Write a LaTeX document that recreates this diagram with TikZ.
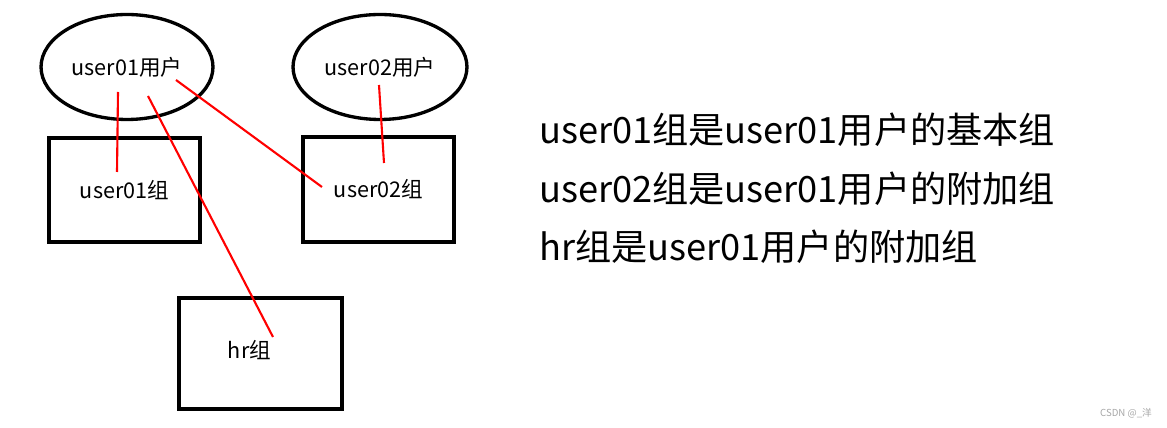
\documentclass[tikz,border=0pt]{standalone}
\usepackage{fontspec}
\setmainfont{Noto Sans CJK SC}
\usetikzlibrary{shapes.geometric}

\begin{document}
\begin{tikzpicture}[x=0.02cm, y=-0.02cm,
    userellipse/.style={draw, ellipse, line width=1.9pt, inner sep=0pt, font=\fontsize{12.3}{14}\selectfont},
    groupbox/.style={draw, rectangle, line width=1.9pt, inner sep=0pt, font=\fontsize{12.3}{14}\selectfont},
    link/.style={red, line width=1.2pt},
    note/.style={anchor=west, font=\fontsize{20.6}{24}\selectfont}]
    \useasboundingbox (0,0) rectangle (1167,428);

    \node[userellipse, minimum width=3.44cm, minimum height=2.1cm] (user01) at (127,67) {user01用户};
    \node[userellipse, minimum width=3.48cm, minimum height=2.1cm] (user02) at (380,67) {user02用户};

    \node[groupbox, minimum width=3.02cm, minimum height=2.08cm] (grp01) at (124.5,190) {user01组};
    \node[groupbox, minimum width=3.02cm, minimum height=2.1cm] (grp02) at (378.5,189.5) {user02组};
    \node[groupbox, minimum width=3.26cm, minimum height=2.22cm,
          label={[font=\fontsize{12.3}{14}\selectfont, xshift=-0.22cm, yshift=0.06cm]center:hr组}] (hr) at (260.5,353.5) {};

    % ends of the red strokes
    \coordinate (u1a) at (118,92);
    \coordinate (g1a) at (117,172);
    \coordinate (u1b) at (148,96);
    \coordinate (hra) at (273,337);
    \coordinate (u1c) at (176,80);
    \coordinate (g2a) at (322,187);
    \coordinate (u2a) at (379,85);
    \coordinate (g2b) at (384,163);

    \draw[link] (u1a) -- (g1a);
    \draw[link] (u1b) -- (hra);
    \draw[link] (u1c) -- (g2a);
    \draw[link] (u2a) -- (g2b);

    \node[note] (line1) at (533,130) {user01组是user01用户的基本组};
    \node[note] (line2) at (533,189) {user02组是user01用户的附加组};
    \node[note] (line3) at (533,247) {hr组是user01用户的附加组};

    \node[gray!70, font=\fontsize{5.5}{7}\selectfont] (mark) at (1126,413) {CSDN @\_洋};
\end{tikzpicture}
\end{document}
